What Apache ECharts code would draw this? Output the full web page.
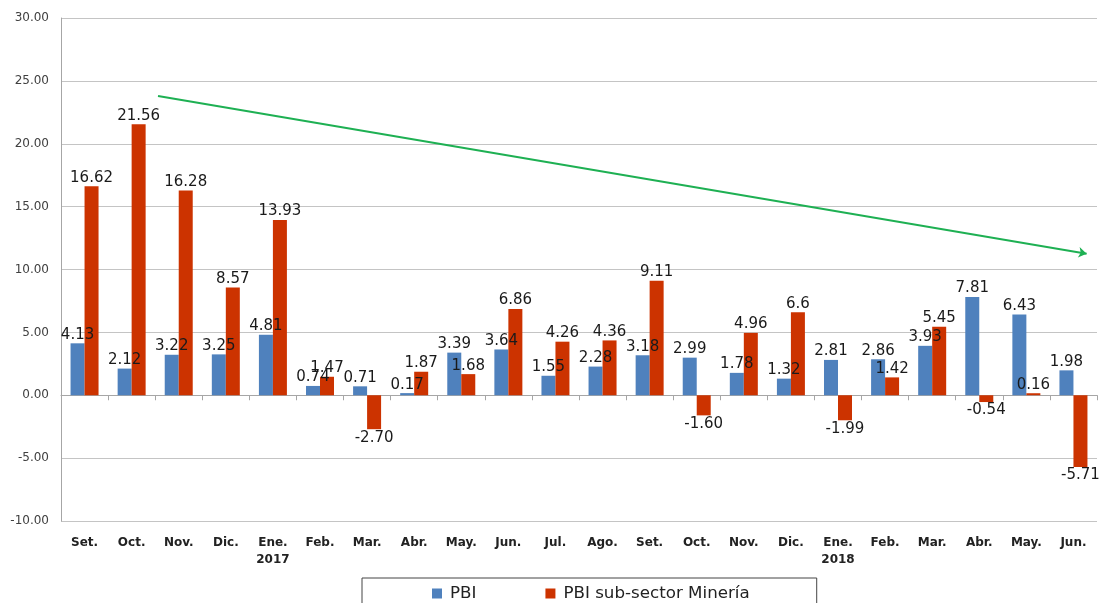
<!DOCTYPE html>
<html lang="es">
<head>
  <meta charset="UTF-8">
  <title>PBI y PBI sub-sector Minería</title>
  <script src="https://cdn.jsdelivr.net/npm/echarts@6.0.0/dist/echarts.min.js"></script>
  <style>
    html, body { margin: 0; padding: 0; background: #fff; }
    #chart { width: 1099px; height: 603px; }
  </style>
</head>
<body>
  <div id="chart"></div>
  <script>
    // meses (Set. 2016 - Jun. 2018)
    const months = ['Set.', 'Oct.', 'Nov.', 'Dic.', 'Ene.\n2017', 'Feb.', 'Mar.', 'Abr.', 'May.', 'Jun.', 'Jul.',
      'Ago.', 'Set.', 'Oct.', 'Nov.', 'Dic.', 'Ene.\n2018', 'Feb.', 'Mar.', 'Abr.', 'May.', 'Jun.'];

    const pbi = [4.13, 2.12, 3.22, 3.25, 4.81, 0.74, 0.71, 0.17, 3.39, 3.64, 1.55,
      2.28, 3.18, 2.99, 1.78, 1.32, 2.81, 2.86, 3.93, 7.81, 6.43, 1.98];
    const mineria = [16.62, 21.56, 16.28, 8.57, 13.93, 1.47, -2.70, 1.87, 1.68, 6.86, 4.26,
      4.36, 9.11, -1.60, 4.96, 6.6, -1.99, 1.42, 5.45, -0.54, 0.16, -5.71];

    // textos de etiqueta tal como aparecen
    const pbiLabels = ['4.13', '2.12', '3.22', '3.25', '4.81', '0.74', '0.71', '0.17', '3.39', '3.64', '1.55',
      '2.28', '3.18', '2.99', '1.78', '1.32', '2.81', '2.86', '3.93', '7.81', '6.43', '1.98'];
    const mineriaLabels = ['16.62', '21.56', '16.28', '8.57', '13.93', '1.47', '-2.70', '1.87', '1.68', '6.86', '4.26',
      '4.36', '9.11', '-1.60', '4.96', '6.6', '-1.99', '1.42', '5.45', '-0.54', '0.16', '-5.71'];

    // flecha de tendencia (posición en meses, valor)
    const trendStart = [2.06, 23.8];
    const trendEnd = [21.78, 11.26];

    const yTicks = { min: -10, max: 30, interval: 5 };

    const chart = echarts.init(document.getElementById('chart'));

    const labelFont = { fontFamily: 'DejaVu Sans', fontSize: 15, color: '#1a1a1a' };

    // valores negativos: etiqueta debajo de la barra
    function withLabelSide(values) {
      return values.map(v => (v < 0 ? { value: v, label: { position: 'bottom' } } : v));
    }

    chart.setOption({
      animation: false,
      backgroundColor: '#ffffff',
      grid: { left: 61, right: 2, top: 18, bottom: 82, containLabel: false },
      legend: {
        left: 362,
        top: 578,
        padding: [7, 67, 9, 70],
        borderColor: '#444',
        borderWidth: 1,
        itemGap: 69,
        itemWidth: 10,
        itemHeight: 10,
        icon: 'rect',
        textStyle: { fontFamily: 'DejaVu Sans', fontSize: 16.7, color: '#222', padding: [0, 0, 0, 3] },
        data: ['PBI', 'PBI sub-sector Minería']
      },
      xAxis: [
        {
          type: 'category',
          data: months,
          position: 'bottom',
          axisLine: { show: false, onZero: false },
          axisTick: { show: false },
          axisLabel: {
            interval: 0,
            margin: 13,
            fontFamily: 'DejaVu Sans',
            fontWeight: 'bold',
            fontSize: 12,
            lineHeight: 17,
            color: '#222'
          }
        },
        {
          type: 'category',
          data: months,
          position: 'bottom',
          axisLine: { show: true, onZero: true, lineStyle: { color: '#a6a6a6', width: 1 } },
          axisTick: { show: true, interval: 0, length: 5, lineStyle: { color: '#a6a6a6' } },
          axisLabel: { show: false }
        },
        {
          type: 'value',
          min: 0,
          max: months.length,
          show: false
        }
      ],
      yAxis: {
        type: 'value',
        min: yTicks.min,
        max: yTicks.max,
        interval: yTicks.interval,
        axisLine: { show: true, lineStyle: { color: '#a6a6a6' } },
        axisTick: { show: false },
        axisLabel: {
          formatter: v => v.toFixed(2),
          fontFamily: 'DejaVu Sans',
          fontSize: 12,
          color: '#404040',
          margin: 12
        },
        splitLine: { lineStyle: { color: '#c4c4c4', width: 1 } }
      },
      series: [
        {
          name: 'PBI',
          type: 'bar',
          xAxisIndex: 0,
          data: withLabelSide(pbi),
          barWidth: 14,
          barGap: '0%',
          itemStyle: { color: '#4f81bd' },
          label: {
            show: true,
            position: 'top',
            distance: 1,
            formatter: p => pbiLabels[p.dataIndex],
            ...labelFont
          }
        },
        {
          name: 'PBI sub-sector Minería',
          type: 'bar',
          xAxisIndex: 0,
          data: withLabelSide(mineria),
          barWidth: 14,
          barGap: '0%',
          itemStyle: { color: '#cc3300' },
          label: {
            show: true,
            position: 'top',
            distance: 1,
            formatter: p => mineriaLabels[p.dataIndex],
            ...labelFont
          }
        },
        {
          name: 'tendencia',
          type: 'line',
          xAxisIndex: 2,
          data: [],
          silent: true,
          markLine: {
            silent: true,
            symbol: ['none', 'arrow'],
            symbolSize: 8,
            label: { show: false },
            lineStyle: { color: '#1eb053', width: 2, type: 'solid' },
            data: [[{ coord: trendStart }, { coord: trendEnd }]]
          }
        }
      ]
    });
  </script>
</body>
</html>
